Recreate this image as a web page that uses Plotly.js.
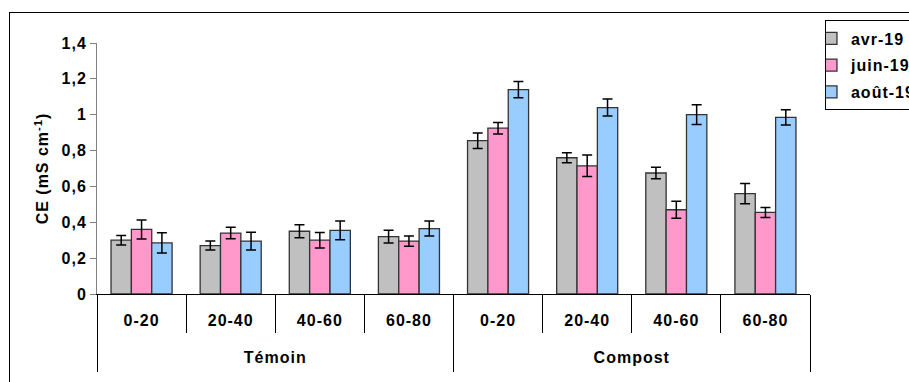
<!DOCTYPE html>
<html>
<head>
<meta charset="utf-8">
<script src="https://cdn.plot.ly/plotly-3.0.1.min.js"></script>
<style>
  html, body { margin: 0; padding: 0; background: #fff; }
  #wrap { position: relative; width: 909px; height: 382px; overflow: hidden; }
  #chart { width: 909px; height: 382px; }
  #frame { position: absolute; left: 9px; top: 12px; width: 1000px; height: 1000px;
           border: 1px solid #000; pointer-events: none; }
  svg text { letter-spacing: 1px; }
</style>
</head>
<body>
<div id="wrap">
  <div id="chart"></div>
  <div id="frame"></div>
</div>
<script>
// ---- data ----
const groups = ['Témoin', 'Témoin', 'Témoin', 'Témoin', 'Compost', 'Compost', 'Compost', 'Compost'];
const depths = ['0-20', '20-40', '40-60', '60-80', '0-20', '20-40', '40-60', '60-80'];
const seriesNames = ['avr-19', 'juin-19', 'août-19'];
const avr = [0.30, 0.27, 0.35, 0.32, 0.855, 0.76, 0.675, 0.56];
const avrErr = [0.026, 0.025, 0.036, 0.035, 0.043, 0.028, 0.032, 0.057];
const juin = [0.36, 0.34, 0.30, 0.295, 0.925, 0.715, 0.47, 0.455];
const juinErr = [0.053, 0.032, 0.043, 0.028, 0.032, 0.06, 0.047, 0.028];
const aout = [0.285, 0.295, 0.355, 0.365, 1.14, 1.04, 1.0, 0.985];
const aoutErr = [0.057, 0.05, 0.052, 0.042, 0.045, 0.047, 0.055, 0.043];
const yTitle = 'CE (mS cm<sup>-1</sup>)';

const colors = ['#C0C0C0', '#FF99CC', '#99CCFF'];
const FONT = 'Liberation Sans, Arial, sans-serif';

// category positions (index of each depth category on the axis)
const pos = depths.map((_, i) => i);
const catBounds = [-0.5].concat(pos.map(p => p + 0.5));
const groupNames = [...new Set(groups)];
const groupCenters = groupNames.map(g => {
  const idx = pos.filter(i => groups[i] === g);
  return (idx[0] + idx[idx.length - 1]) / 2;
});
const groupBounds = [-0.5].concat(groupNames.map(g => {
  const idx = pos.filter(i => groups[i] === g);
  return idx[idx.length - 1] + 0.5;
}));
const xRange = [-0.5, depths.length - 0.5];

const values = [avr, juin, aout];
const errors = [avrErr, juinErr, aoutErr];

const traces = values.map((v, i) => ({
  type: 'bar',
  name: seriesNames[i],
  legendgroup: 'g' + i,
  x: pos,
  y: v,
  customdata: groups,
  marker: { color: colors[i], line: { color: '#333333', width: 1.3 } },
  error_y: { type: 'data', array: errors[i], visible: true, color: '#000', thickness: 1.5, width: 5 },
  hoverinfo: 'skip'
}));

// carrier trace (draws nothing) so the group-label axis is rendered
traces.push({
  type: 'scatter', mode: 'none', xaxis: 'x2', yaxis: 'y',
  x: groupCenters, y: groupCenters.map(() => 0),
  showlegend: false, hoverinfo: 'skip'
});

const tickFont = { family: FONT, size: 16, color: '#000', weight: 'bold' };

const layout = {
  width: 909, height: 382,
  margin: { l: 97, r: 99, t: 43, b: 88, autoexpand: false },
  paper_bgcolor: '#fff', plot_bgcolor: '#fff',
  separators: ', ',
  barmode: 'group',
  bargap: 0.315,
  bargroupgap: 0,
  font: { family: FONT, size: 16, color: '#000', weight: 'bold' },
  showlegend: true,
  legend: {
    x: 1.021, xanchor: 'left', y: 1.09, yanchor: 'top',
    bordercolor: '#000', borderwidth: 1, bgcolor: '#fff',
    font: tickFont,
    tracegroupgap: 3, indentation: -15, traceorder: 'grouped'
  },
  xaxis: {
    range: xRange, fixedrange: true,
    showline: true, linecolor: '#000', linewidth: 1,
    tickmode: 'array', tickvals: pos, ticktext: depths,
    ticks: '',
    minor: { tickmode: 'array', tickvals: catBounds, ticks: 'outside', ticklen: 38, tickcolor: '#000', tickwidth: 1, showgrid: false },
    ticklabelstandoff: 12,
    tickfont: tickFont,
    showgrid: false, zeroline: false
  },
  xaxis2: {
    overlaying: 'x', anchor: 'y', side: 'bottom',
    range: xRange, fixedrange: true,
    showline: false,
    tickmode: 'array', tickvals: groupCenters, ticktext: groupNames,
    ticks: '',
    minor: { tickmode: 'array', tickvals: groupBounds, ticks: 'outside', ticklen: 77, tickcolor: '#000', tickwidth: 1, showgrid: false },
    ticklabelstandoff: 52,
    tickfont: tickFont,
    showgrid: false, zeroline: false
  },
  yaxis: {
    range: [0, 1.4], dtick: 0.2, tick0: 0,
    showline: true, linecolor: '#808080', linewidth: 1,
    ticks: 'outside', ticklen: 6, tickcolor: '#808080',
    tickfont: tickFont,
    showgrid: false, zeroline: false, fixedrange: true,
    title: { text: yTitle, font: tickFont, standoff: 8 }
  }
};

Plotly.newPlot('chart', traces, layout, { staticPlot: true, displayModeBar: false });
</script>
</body>
</html>
